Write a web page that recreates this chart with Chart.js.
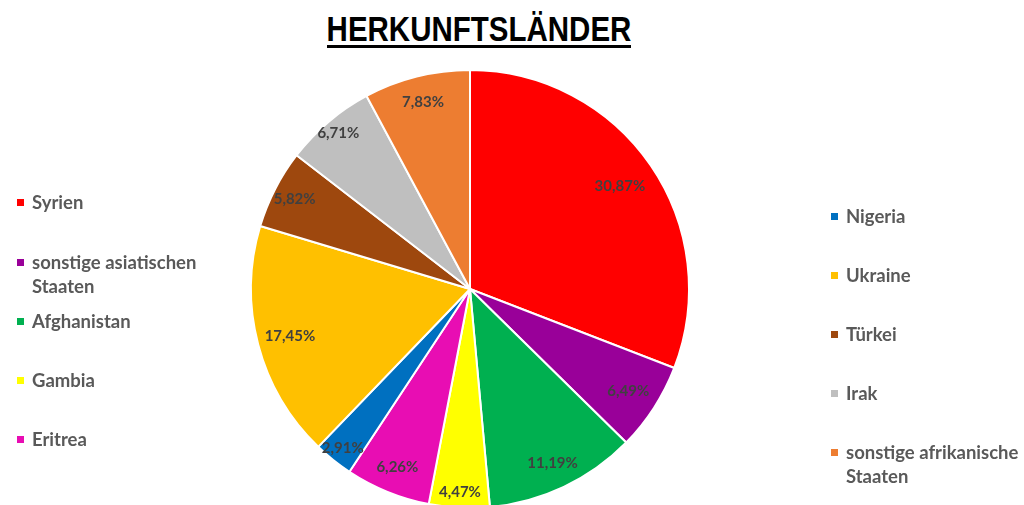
<!DOCTYPE html>
<html>
<head>
<meta charset="utf-8">
<script src="https://cdn.jsdelivr.net/npm/chart.js@4.4.1/dist/chart.umd.min.js"></script>
<style>
  html, body { margin: 0; padding: 0; background: #fff; width: 1024px; height: 505px; overflow: hidden; }
  #wrap { position: relative; width: 1024px; height: 505px; overflow: hidden; }
  #pie { position: absolute; left: 0; top: 0; }
  #title {
    position: absolute; left: 0; width: 958px; top: 8px; text-align: center;
    font: bold 29.5px "Liberation Sans", Arial, sans-serif; color: #000;
  }
  #title .u { display: inline-block; border-bottom: 3px solid #000; padding-bottom: 5px; }
  #title .t { display: block; line-height: 30px; transform: scaleY(1.22); transform-origin: 50% 0; }
  .leg { position: absolute; font: bold 18.5px Lato, sans-serif; color: #595959; line-height: 24px; }
  .leg i { position: absolute; width: 7px; height: 7px; top: 9px; }
</style>
</head>
<body>
<div id="wrap">
  <div id="title"><span class="u"><span class="t">HERKUNFTSLÄNDER</span></span></div>
  <canvas id="pie" width="1024" height="520"></canvas>
</div>
<script>
const countries = [
  "Syrien", "sonstige asiatischen Staaten", "Afghanistan", "Gambia", "Eritrea",
  "Nigeria", "Ukraine", "Türkei", "Irak", "sonstige afrikanische Staaten"
];
const shares = [30.87, 6.49, 11.19, 4.47, 6.26, 2.91, 17.45, 5.82, 6.71, 7.83];
const colors = [
  "#FF0000", "#990099", "#00B050", "#FFFF00", "#E80DB3",
  "#0070C0", "#FFC000", "#9E480E", "#BFBFBF", "#ED7D31"
];

// label distance from centre, as a share of the radius (Excel "best fit" look)
const labelRadius = [0.83, 0.86, 0.88, 0.93, 0.88, 0.93, 0.85, 0.9, 0.93, 0.88];

const fmt = v => v.toFixed(2).replace(".", ",") + "%";

// legend: two columns, left 0-4, right 5-9
const legendCols = [
  { x: 17, tops: [190, 250, 309, 368, 427], items: [0, 1, 2, 3, 4], width: 200 },
  { x: 831, tops: [204, 263, 322, 381, 440], items: [5, 6, 7, 8, 9], width: 193 }
];
const wrap = document.getElementById("wrap");
legendCols.forEach(col => {
  col.items.forEach((idx, k) => {
    const d = document.createElement("div");
    d.className = "leg";
    d.style.left = col.x + "px";
    d.style.top = col.tops[k] + "px";
    d.style.width = col.width + "px";
    d.style.paddingLeft = "15px";
    const m = document.createElement("i");
    m.style.left = "0px";
    m.style.background = colors[idx];
    d.appendChild(m);
    d.appendChild(document.createTextNode(countries[idx]));
    wrap.appendChild(d);
  });
});

const sliceLabels = {
  id: "sliceLabels",
  afterDatasetsDraw(chart) {
    const ctx = chart.ctx;
    const meta = chart.getDatasetMeta(0);
    ctx.save();
    ctx.font = "bold 15px Lato";
    ctx.fillStyle = "#404040";
    ctx.textAlign = "center";
    ctx.textBaseline = "middle";
    meta.data.forEach((arc, i) => {
      const p = arc.getProps(["x", "y", "startAngle", "endAngle", "outerRadius"], true);
      const mid = (p.startAngle + p.endAngle) / 2;
      const r = p.outerRadius * labelRadius[i];
      ctx.fillText(fmt(shares[i]), p.x + Math.cos(mid) * r, p.y + Math.sin(mid) * r);
    });
    ctx.restore();
  }
};

new Chart(document.getElementById("pie"), {
  type: "pie",
  data: {
    labels: countries,
    datasets: [{
      data: shares,
      backgroundColor: colors,
      borderColor: "#ffffff",
      borderWidth: 2
    }]
  },
  options: {
    responsive: false,
    animation: false,
    layout: { padding: { left: 250, right: 334, top: 69, bottom: 11 } },
    plugins: {
      legend: { display: false },
      tooltip: { enabled: false }
    }
  },
  plugins: [sliceLabels]
});
</script>
</body>
</html>
